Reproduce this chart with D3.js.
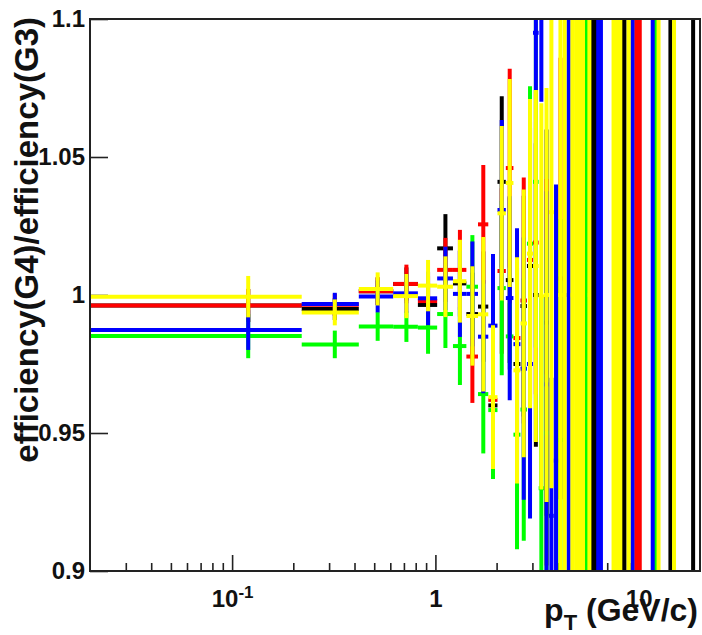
<!DOCTYPE html>
<html>
<head>
<meta charset="utf-8">
<script src="https://cdn.jsdelivr.net/npm/d3@7"></script>
<style>
  html, body { margin: 0; padding: 0; background: #fff; }
  svg { display: block; }
  text { font-family: "Liberation Sans", Arial, Helvetica, sans-serif; font-weight: bold; fill: #111; }
  .tick-label text { font-size: 24px; }
</style>
</head>
<body>
<svg id="chart" width="702" height="635"></svg>
<script>
// pT bins are 0.2 GeV/c wide, starting at 0.02 GeV/c; each entry is a bin centre.
const binHalfWidth = 0.1;

// Ratio efficiency(G4)/efficiency(G3) per pT bin, one set per sample
const blackPt  = [0.12, 0.32, 0.52, 0.72, 0.92, 1.12, 1.32, 1.52, 1.72, 1.92, 2.12, 2.32, 2.52, 2.72, 2.92, 3.12, 3.52, 5.92, 6.12, 8.32, 8.52, 14.32, 18.52];
const blackVal = [0.9962, 0.9949, 1.0014, 1.0040, 0.9964, 1.0169, 1.0042, 0.9931, 0.9958, 0.9600, 1.0410, 1.0054, 0.9750, 0.9960, 1.0105, 1.0000, 0.9900, 1.0, 2.0, 1.0, 0.5, 1.0, 2.0];
const blackErr = [0.006, 0.004, 0.005, 0.006, 0.008, 0.0124, 0.012, 0.015, 0.020, 0.020, 0.031, 0.030, 0.035, 0.040, 0.050, 0.055, 0.070, 1.0, 2.0, 1.2, 0.7, 1.4, 2.8];

const redPt  = [0.12, 0.32, 0.52, 0.72, 0.92, 1.12, 1.32, 1.52, 1.72, 1.92, 2.12, 2.32, 2.52, 2.72, 2.92, 3.12, 3.52, 4.12, 9.72, 9.92, 10.12];
const redVal = [0.9962, 0.9965, 1.0014, 1.0040, 0.9978, 1.0091, 1.0091, 0.9777, 1.0256, 0.9620, 1.0087, 1.0460, 0.9844, 0.9980, 1.0127, 1.0190, 0.9720, 1.0060, 1.0, 0.5, 1.5];
const redErr = [0.006, 0.004, 0.005, 0.007, 0.009, 0.0116, 0.0145, 0.0168, 0.0215, 0.025, 0.030, 0.036, 0.038, 0.0446, 0.050, 0.055, 0.070, 0.080, 1.0, 0.7, 1.2];

const greenPt  = [0.12, 0.32, 0.52, 0.72, 0.92, 1.12, 1.32, 1.52, 1.72, 1.92, 2.12, 2.32, 2.52, 2.72, 2.92, 3.12, 3.32, 3.52, 4.12, 5.52, 12.12];
const greenVal = [0.9851, 0.9821, 0.9886, 0.9885, 0.9882, 0.9931, 0.9815, 1.0030, 0.9641, 0.9583, 1.0025, 0.9850, 0.9494, 0.9585, 1.0186, 1.0410, 0.9300, 0.9500, 0.9475, 1.0, 1.0];
const greenErr = [0.008, 0.005, 0.0052, 0.0055, 0.0095, 0.0123, 0.0141, 0.0187, 0.0215, 0.025, 0.0316, 0.012, 0.0415, 0.0475, 0.057, 0.060, 0.070, 0.070, 0.080, 1.0, 1.0];

const bluePt  = [0.12, 0.32, 0.52, 0.72, 0.92, 1.12, 1.32, 1.52, 1.72, 1.92, 2.12, 2.32, 2.52, 2.72, 2.92, 3.12, 3.32, 3.52, 3.72, 3.92, 4.52, 6.32, 6.52, 9.32, 11.72];
const blueVal = [0.9873, 0.9967, 0.9995, 1.0006, 0.9988, 1.0060, 1.0004, 1.0004, 0.9849, 0.9889, 1.0308, 0.9989, 0.9822, 0.9733, 0.9750, 1.0950, 1.1050, 0.9676, 0.9200, 0.9400, 1.0, 0.5, 2.0, 1.0, 1.0];
const blueErr = [0.0072, 0.0041, 0.0058, 0.007, 0.0097, 0.0115, 0.0156, 0.019, 0.0205, 0.026, 0.0326, 0.037, 0.042, 0.0475, 0.056, 0.021, 0.035, 0.070, 0.050, 0.100, 1.0, 0.7, 2.0, 1.0, 1.0];

const yellowPt  = [0.12, 0.32, 0.52, 0.72, 0.92, 1.12, 1.32, 1.52, 1.72, 1.92, 2.12, 2.32, 2.52, 2.72, 2.92, 3.12, 3.32, 3.52, 3.72, 4.12, 4.32, 4.72, 4.92, 5.12, 5.32, 5.72, 7.52, 7.72, 7.92, 8.12, 8.92, 12.52, 14.92];
const yellowVal = [0.9994, 0.9937, 1.0022, 0.9996, 1.0034, 1.0030, 1.0050, 0.9924, 0.9930, 0.9630, 1.0296, 1.0406, 0.9727, 0.9897, 1.0150, 1.0105, 0.9995, 1.0000, 1.0300, 1.0, 2.0, 1.0, 0.5, 1.0, 1.5, 1.0, 1.0, 0.5, 2.0, 1.0, 1.0, 1.0, 1.0];
const yellowErr = [0.0075, 0.0047, 0.006, 0.008, 0.0093, 0.011, 0.015, 0.018, 0.028, 0.026, 0.0316, 0.0377, 0.041, 0.0485, 0.056, 0.0638, 0.070, 0.075, 0.100, 1.0, 1.5, 1.0, 0.7, 1.0, 1.0, 1.0, 1.0, 0.7, 2.0, 1.0, 1.0, 1.0, 1.0];

// Axis ticks and labels
const yTicks = [0.9, 0.95, 1.0, 1.05, 1.1];
const yTickLabels = ["0.9", "0.95", "1", "1.05", "1.1"];
const xMajorTicks = [0.1, 1, 10];
const xMajorLabels = ["10^-1", "1", "10"];
const xMinorTicks = [0.03, 0.04, 0.05, 0.06, 0.07, 0.08, 0.09,
                     0.2, 0.3, 0.4, 0.5, 0.6, 0.7, 0.8, 0.9,
                     2, 3, 4, 5, 6, 7, 8, 9];
const yTitle = "efficiency(G4)/efficiency(G3)";

// Samples are painted in this order; later ones sit on top
const series = [
  { color: "#000000", pt: blackPt,  val: blackVal,  err: blackErr },
  { color: "#ff0000", pt: redPt,    val: redVal,    err: redErr },
  { color: "#00ff00", pt: greenPt,  val: greenVal,  err: greenErr },
  { color: "#0000ff", pt: bluePt,   val: blueVal,   err: blueErr },
  { color: "#ffff00", pt: yellowPt, val: yellowVal, err: yellowErr }
];

const W = 702, H = 635;
const frame = { left: 90, right: 700, top: 19, bottom: 571 };

const x = d3.scaleLog().domain([0.02, 20.02]).range([frame.left, frame.right]);
const y = d3.scaleLinear().domain([0.9, 1.1]).range([frame.bottom, frame.top]);

const svg = d3.select("#chart");
svg.append("rect").attr("width", W).attr("height", H).attr("fill", "#fff");

svg.append("defs").append("clipPath").attr("id", "plot-clip")
  .append("rect")
  .attr("x", frame.left).attr("y", frame.top)
  .attr("width", frame.right - frame.left).attr("height", frame.bottom - frame.top);

// Y axis: inward ticks, labels to the left
const yAxisG = svg.append("g")
  .attr("class", "tick-label")
  .attr("transform", `translate(${frame.left},0)`)
  .attr("color", "#222")
  .call(d3.axisLeft(y)
    .tickValues(yTicks)
    .tickFormat((d, i) => yTickLabels[i])
    .tickSizeInner(-18).tickSizeOuter(0).tickPadding(5));
yAxisG.select(".domain").remove();
yAxisG.selectAll(".tick line").attr("stroke-width", 1.6);

// X axis: minor ticks (no labels)
const xMinorG = svg.append("g")
  .attr("transform", `translate(0,${frame.bottom})`)
  .attr("color", "#222")
  .call(d3.axisBottom(x).tickValues(xMinorTicks).tickFormat("")
    .tickSizeInner(-8).tickSizeOuter(0));
xMinorG.select(".domain").remove();
xMinorG.selectAll(".tick line").attr("stroke-width", 1.6);

// X axis: decades with labels
const xMajorG = svg.append("g")
  .attr("class", "tick-label")
  .attr("transform", `translate(0,${frame.bottom})`)
  .attr("color", "#222")
  .call(d3.axisBottom(x).tickValues(xMajorTicks)
    .tickFormat((d, i) => xMajorLabels[i])
    .tickSizeInner(-16).tickSizeOuter(0).tickPadding(19));
xMajorG.select(".domain").remove();
xMajorG.selectAll(".tick line").attr("stroke-width", 1.6);
// power-of-ten labels: base plus raised exponent
xMajorG.selectAll(".tick text").each(function () {
  const t = d3.select(this);
  const label = t.text();
  if (label.includes("^")) {
    const [base, exp] = label.split("^");
    t.text(null);
    t.append("tspan").text(base);
    t.append("tspan").attr("dy", "-0.55em").style("font-size", "17px").text(exp);
  }
});

// Error bars: horizontal bin-width line at the value, vertical line for the error
const plot = svg.append("g").attr("clip-path", "url(#plot-clip)");
series.forEach(s => {
  const pts = s.pt.map((p, i) => ({ p, v: s.val[i], e: s.err[i] }));
  const g = plot.append("g").attr("stroke", s.color).attr("stroke-width", 4);
  g.selectAll("line.h").data(pts).join("line")
    .attr("class", "h")
    .attr("x1", d => x(Math.max(d.p - binHalfWidth, 0.02)))
    .attr("x2", d => x(d.p + binHalfWidth))
    .attr("y1", d => y(d.v)).attr("y2", d => y(d.v));
  g.selectAll("line.v").data(pts).join("line")
    .attr("class", "v")
    .attr("x1", d => x(d.p)).attr("x2", d => x(d.p))
    .attr("y1", d => y(d.v - d.e)).attr("y2", d => y(d.v + d.e));
});

// Frame
svg.append("rect")
  .attr("x", frame.left).attr("y", frame.top)
  .attr("width", frame.right - frame.left).attr("height", frame.bottom - frame.top)
  .attr("fill", "none").attr("stroke", "#222").attr("stroke-width", 2);

// Axis titles
const xTitle = svg.append("text")
  .attr("x", 698).attr("y", 621)
  .attr("text-anchor", "end")
  .style("font-size", "32px");
xTitle.append("tspan").text("p");
xTitle.append("tspan").attr("dy", 9).style("font-size", "22px").text("T");
xTitle.append("tspan").attr("dy", -9).text(" (GeV/c)");

svg.append("text")
  .attr("transform", "rotate(-90)")
  .attr("x", -17).attr("y", 38)
  .attr("text-anchor", "end")
  .style("font-size", "33px")
  .text(yTitle);
</script>
</body>
</html>
